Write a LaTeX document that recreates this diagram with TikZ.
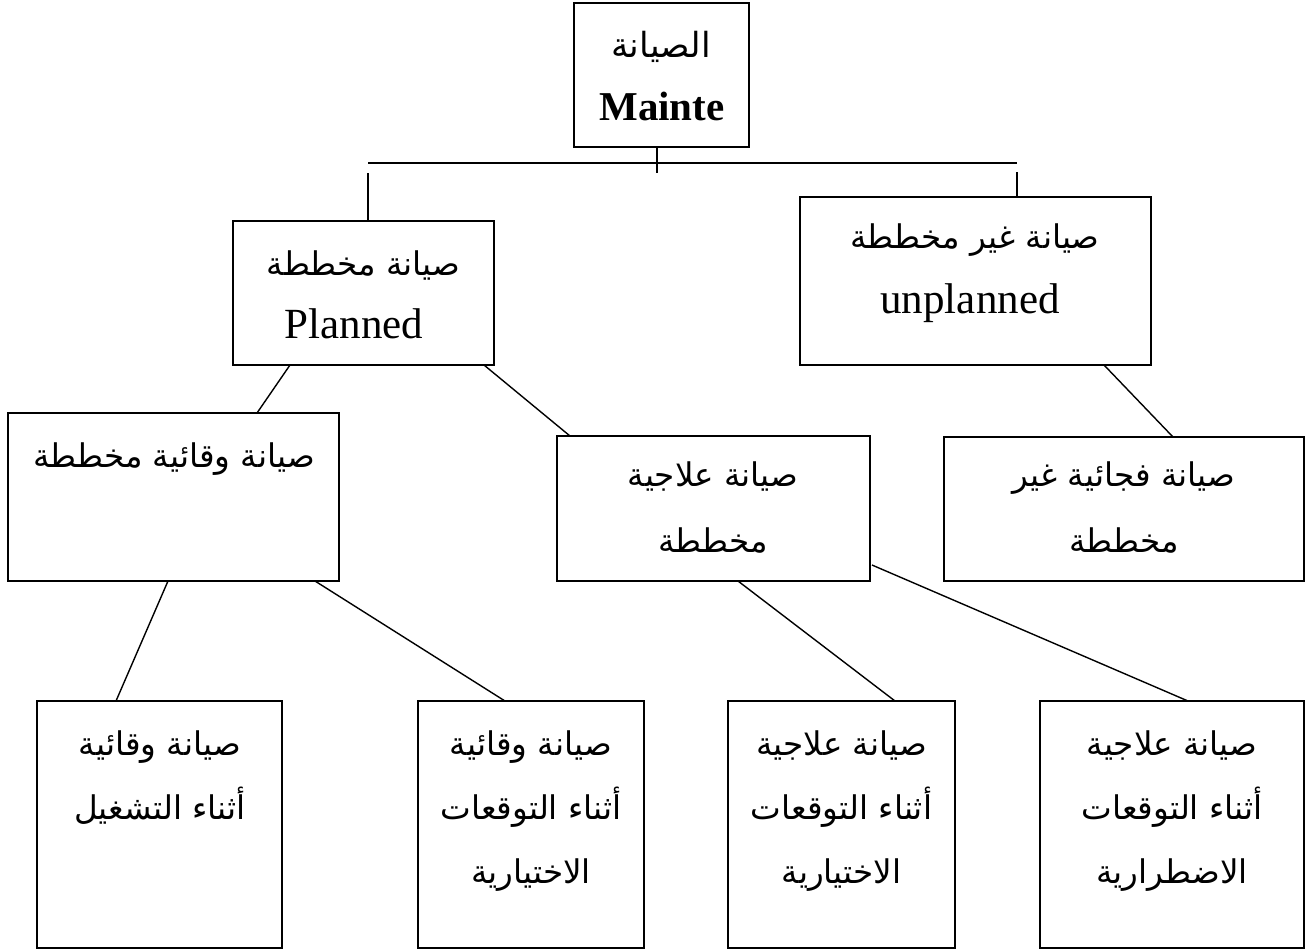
\documentclass[tikz,border=0pt]{standalone}
\usepackage{fontspec}
\setmainfont{Liberation Serif}
\newfontfamily\arabicfont[Script=Arabic]{DejaVu Sans}
\TeXXeTstate=1
\usetikzlibrary{fit,calc}
\newcommand\arb[1]{\beginR #1\endR}
\begin{document}
\begin{tikzpicture}[x=0.5pt,y=-0.5pt,
  box/.style={draw, line width=1pt, inner sep=0pt, outer sep=0pt},
  link/.style={line width=0.7pt},
  ar/.style={font=\arabicfont\fontsize{16.3}{18}\selectfont, inner sep=0pt, anchor=base},
  lat/.style={font=\fontsize{21.5}{24}\selectfont, inner sep=0pt, anchor=base}]
\fill[white] (0,0) rectangle (1311,950);
\useasboundingbox (0,0) rectangle (1311,950);
% boxes
\node[box, fit={(574,3) (749,147)}] (top) {};
\node[box, fit={(233,221) (494,365)}] (planned) {};
\node[box, fit={(800,197) (1151,365)}] (unplanned) {};
\node[box, fit={(8,413) (339,581)}] (prev) {};
\node[box, fit={(557,436) (870,581)}] (corr) {};
\node[box, fit={(944,437) (1304,581)}] (sudden) {};
\node[box, fit={(37,701) (282,948)}] (b1) {};
\node[box, fit={(418,701) (644,948)}] (b2) {};
\node[box, fit={(728,701) (955,948)}] (b3) {};
\node[box, fit={(1040,701) (1304,948)}] (b4) {};
% bracket
\coordinate (tick) at (657,173);
\coordinate (hl) at (368,163);
\coordinate (hr) at (1017,163);
\coordinate (ll) at (368,173);
\coordinate (rl) at (1017,172);
\draw[link] ($(top.south)+(-4.5,0)$) -- (tick);
\draw[link] (hl) -- (hr);
\draw[link] (ll) -- ($(planned.north west)+(135,0)$);
\draw[link] (rl) -- ($(unplanned.north west)+(217,0)$);
% connectors
\draw[link] ($(planned.south west)+(57,0)$) -- ($(prev.north west)+(249,0)$);
\draw[link] ($(planned.south west)+(251,0)$) -- ($(corr.north west)+(13,0)$);
\draw[link] ($(unplanned.south west)+(304,0)$) -- ($(sudden.north west)+(229,0)$);
\draw[link] ($(prev.south west)+(160,0)$) -- ($(b1.north west)+(79,0)$);
\draw[link] ($(prev.south west)+(307,0)$) -- ($(b2.north west)+(87,0)$);
\draw[link] ($(corr.south west)+(181,0)$) -- ($(b3.north west)+(167,0)$);
\draw[link] ($(corr.south east)+(2,-16)$) -- ($(b4.north west)+(148,0)$);
% texts
\node[ar, font=\arabicfont\fontsize{17.3}{19}\selectfont] (t0a) at (661,57) {\arb{الصيانة}};
\node[lat, font=\bfseries\fontsize{20.5}{24}\selectfont] (t0b) at (662,120) {Mainte};
\node[ar] (t1a) at (363.5,275) {\arb{صيانة مخططة}};
\node[lat] (t1b) at (354,338) {Planned};
\node[ar] (t2a) at (975,248) {\arb{صيانة غير مخططة}};
\node[lat] (t2b) at (970,313) {unplanned};
\node[ar] (t3a) at (174,467) {\arb{صيانة وقائية مخططة}};
\node[ar] (t4a) at (713,486) {\arb{صيانة علاجية}};
\node[ar] (t4b) at (713,552) {\arb{مخططة}};
\node[ar] (t5a) at (1124,486) {\arb{صيانة فجائية غير}};
\node[ar] (t5b) at (1124,552) {\arb{مخططة}};
\node[ar] (t6a) at (160,755) {\arb{صيانة وقائية}};
\node[ar] (t6b) at (160,819) {\arb{أثناء التشغيل}};
\node[ar] (t7a) at (531,755) {\arb{صيانة وقائية}};
\node[ar] (t7b) at (531,819) {\arb{أثناء التوقعات}};
\node[ar] (t7c) at (531,883) {\arb{الاختيارية}};
\node[ar] (t8a) at (841.5,755) {\arb{صيانة علاجية}};
\node[ar] (t8b) at (841.5,819) {\arb{أثناء التوقعات}};
\node[ar] (t8c) at (841.5,883) {\arb{الاختيارية}};
\node[ar] (t9a) at (1172,755) {\arb{صيانة علاجية}};
\node[ar] (t9b) at (1172,819) {\arb{أثناء التوقعات}};
\node[ar] (t9c) at (1172,883) {\arb{الاضطرارية}};
\end{tikzpicture}
\end{document}
